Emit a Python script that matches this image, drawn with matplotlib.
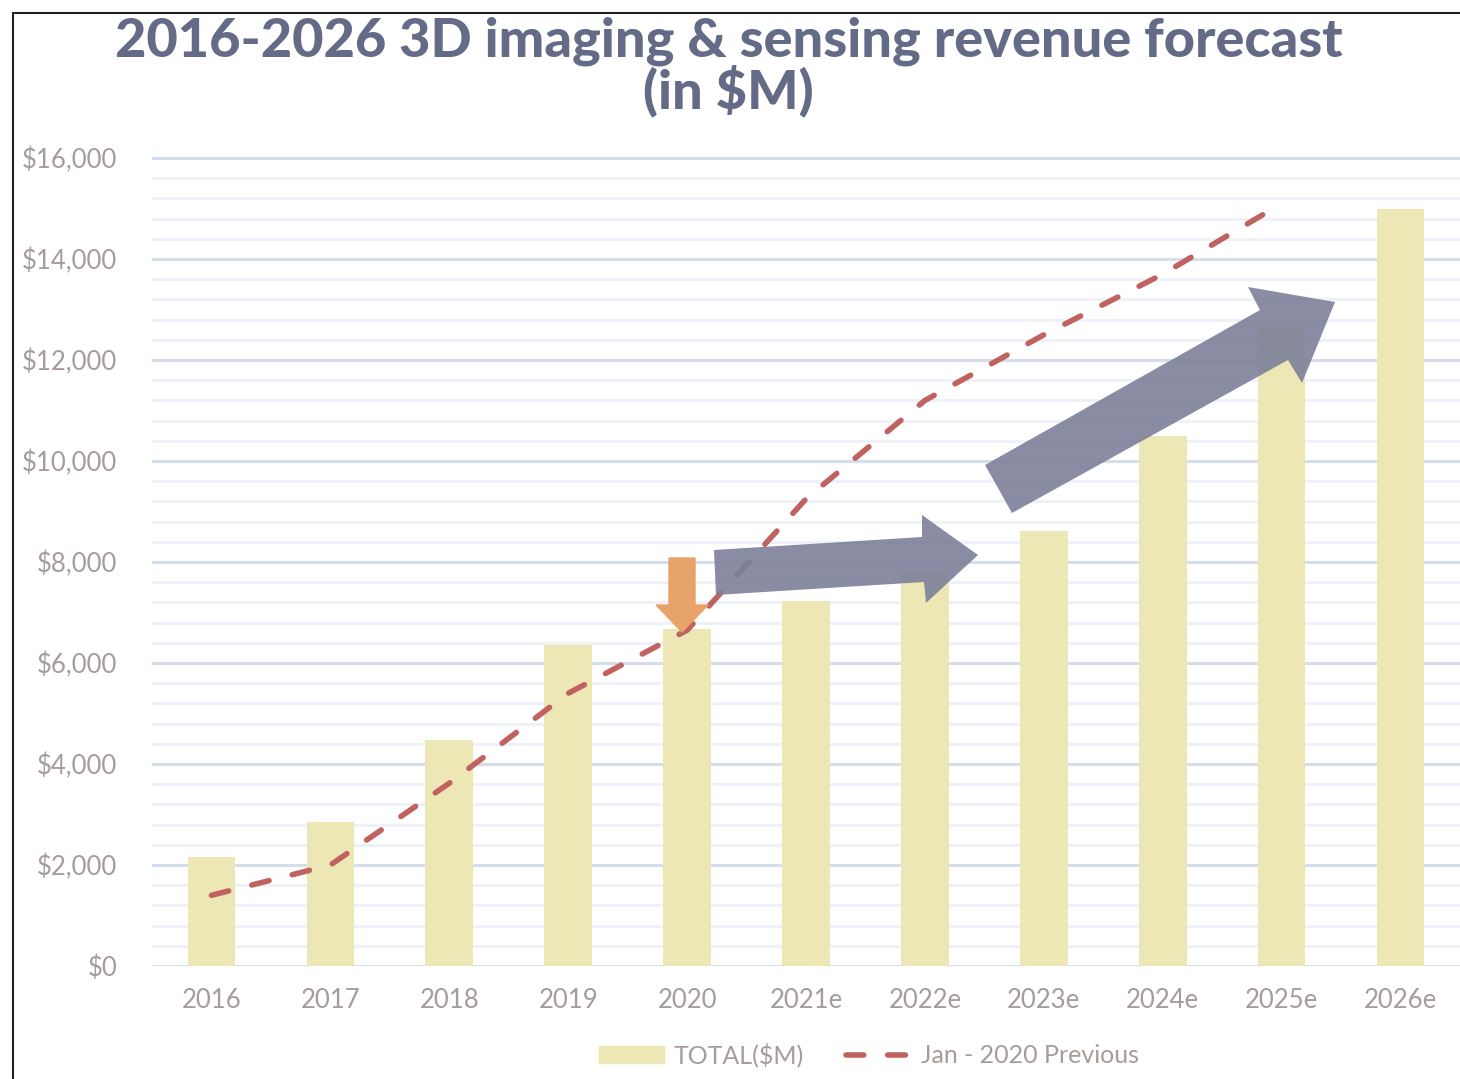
import matplotlib
matplotlib.use("Agg")
import matplotlib.pyplot as plt
from matplotlib.patches import Polygon, Rectangle
from matplotlib.lines import Line2D
from matplotlib.ticker import MultipleLocator, FuncFormatter

W, H = 1460, 1079

years = ["2016", "2017", "2018", "2019", "2020", "2021e", "2022e",
         "2023e", "2024e", "2025e", "2026e"]
total = [2150, 2850, 4480, 6350, 6680, 7230, 7800, 8610, 10500, 12630, 15000]
previous = [1400, 2000, 3620, 5400, 6650, 9250, 11200, 12500, 13700, 15100]

BAR = "#EDE7B6"
LINE = "#C06360"
GRID_MAJ = "#D6DEEC"
GRID_MIN = "#EEF1F7"
TXT = "#A69C9A"
TITLE = "#646B86"
ARROW = "#7C8099"


def px(x, y):
    """Pixel position (from top-left) to figure fraction."""
    return (x / W, 1 - y / H)


fig = plt.figure(figsize=(W / 100, H / 100), dpi=100)
ax = fig.add_axes([152 / W, 1 - 966 / H, 1 - 152 / W, (966 - 153) / H])

x = list(range(len(years)))
ax.bar(x, total, width=0.4, color=BAR, zorder=2, label="TOTAL($M)")
ax.plot(x[:len(previous)], previous, color=LINE, lw=4, dashes=(3.2, 4.3),
        dash_capstyle="round", zorder=3, label="Jan - 2020 Previous")

ax.set_xlim(-0.5, 10.5)
ax.set_ylim(0, 16100)
ax.yaxis.set_major_locator(MultipleLocator(2000))
ax.yaxis.set_minor_locator(MultipleLocator(400))
ax.grid(which="major", axis="y", color=GRID_MAJ, lw=2.2, zorder=0)
ax.grid(which="minor", axis="y", color=GRID_MIN, lw=2.2, zorder=0)
ax.set_axisbelow(True)
for s in ax.spines.values():
    s.set_visible(False)
ax.set_xticks(x)
ax.set_xticklabels(years)
ax.yaxis.set_major_formatter(FuncFormatter(lambda v, p: f"${v:,.0f}"))
ax.tick_params(axis="both", which="both", length=0, colors=TXT, labelsize=18.5)
ax.tick_params(axis="y", pad=25)
ax.tick_params(axis="x", pad=16)
for lab in ax.get_xticklabels() + ax.get_yticklabels():
    lab.set_fontfamily("Lato")

# annotation arrows (figure pixel space)
down = [(669, 558), (695, 558), (695, 605), (708, 605), (682, 632),
        (656, 605), (669, 605)]
flat = [(714, 550), (922, 537), (922, 515), (978, 555), (926, 603),
        (924, 582), (716, 595)]
rise = [(985, 465), (1260, 310), (1248, 287), (1335, 302), (1302, 383),
        (1288, 360), (1012, 513)]
fig.patches.append(Polygon([px(*p) for p in down], closed=True,
                           transform=fig.transFigure, color="#E8A36A",
                           zorder=5))
for pts in (flat, rise):
    fig.patches.append(Polygon([px(*p) for p in pts], closed=True,
                               transform=fig.transFigure, color=ARROW,
                               alpha=0.9, lw=0, zorder=5))

fig.text(0.499, 1 - 67 / H, "2016-2026 3D imaging & sensing revenue forecast\n(in $M)",
         ha="center", va="center", fontsize=39, fontweight="black",
         color=TITLE, family="Lato", linespacing=0.98)

handles = [Rectangle((0, 0), 1, 1, color=BAR),
           Line2D([0], [0], color=LINE, lw=4, dashes=(3.2, 4.3),
                  dash_capstyle="round")]
leg = fig.legend(handles, ["TOTAL($M)", "Jan - 2020 Previous"],
                 loc="center", bbox_to_anchor=(869 / W, 1 - 1055 / H),
                 ncol=2, frameon=False, handlelength=2.6, handleheight=0.7,
                 columnspacing=1.7, handletextpad=0.4,
                 prop={"family": "Lato", "size": 18})
for t in leg.get_texts():
    t.set_color(TXT)

fig.patches.append(Rectangle(px(13, 1100), 1.2, (1100 - 13) / H,
                             transform=fig.transFigure, fill=False,
                             edgecolor="#222222", lw=1.5))

fig.savefig("out.png", dpi=100)
